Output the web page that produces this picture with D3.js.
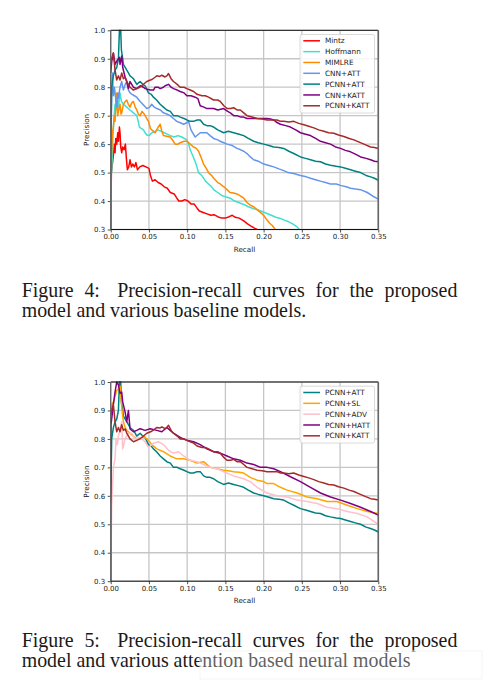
<!DOCTYPE html>
<html><head><meta charset="utf-8">
<script src="https://cdn.jsdelivr.net/npm/d3@7"></script>
<style>body{margin:0;background:#fff}svg{display:block}</style>
</head><body><svg id="c" width="489" height="696"></svg>
<script>
// ---------- data ----------
const xTicks = [0, 0.05, 0.10, 0.15, 0.20, 0.25, 0.30, 0.35];
const yTicks = [0.3, 0.4, 0.5, 0.6, 0.7, 0.8, 0.9, 1.0];

const mintz = [[0,0.30],[0.0009,0.50],[0.0022,0.53],[0.0035,0.56],[0.0048,0.60],[0.0057,0.57],[0.0066,0.62],[0.0079,0.60],[0.0092,0.64],[0.0101,0.61],[0.0114,0.66],[0.0122,0.64],[0.0131,0.59],[0.0144,0.57],[0.0157,0.59],[0.0175,0.58],[0.0192,0.60],[0.0205,0.55],[0.0218,0.51],[0.0236,0.52],[0.0253,0.545],[0.0271,0.52],[0.0289,0.53],[0.0310,0.52],[0.0330,0.535],[0.0350,0.51],[0.0380,0.52],[0.0420,0.525],[0.0460,0.52],[0.0500,0.515],[0.0520,0.49],[0.0545,0.47],[0.0580,0.475],[0.0620,0.465],[0.0660,0.46],[0.0700,0.45],[0.0740,0.445],[0.0780,0.43],[0.0830,0.425],[0.0865,0.41],[0.0890,0.40],[0.0930,0.40],[0.0970,0.405],[0.1010,0.40],[0.1050,0.39],[0.1090,0.39],[0.1130,0.375],[0.1160,0.365],[0.1210,0.36],[0.1260,0.355],[0.1310,0.35],[0.1350,0.352],[0.1400,0.345],[0.1450,0.34],[0.1500,0.34],[0.1550,0.345],[0.1590,0.35],[0.1630,0.343],[0.1680,0.34],[0.1740,0.33],[0.1790,0.32],[0.1830,0.313],[0.1880,0.305],[0.1914,0.30]];

const hoffmann = [[0,0.30],[0.0004,0.50],[0.0013,0.50],[0.0026,0.60],[0.0040,0.68],[0.0057,0.74],[0.0070,0.72],[0.0079,0.77],[0.0092,0.75],[0.0101,0.73],[0.0114,0.76],[0.0122,0.78],[0.0140,0.75],[0.0166,0.74],[0.0190,0.735],[0.0210,0.73],[0.0230,0.725],[0.0253,0.72],[0.0275,0.715],[0.0297,0.71],[0.0320,0.705],[0.0341,0.70],[0.0360,0.68],[0.0376,0.66],[0.0400,0.655],[0.0428,0.65],[0.0450,0.64],[0.0472,0.632],[0.0500,0.63],[0.0540,0.64],[0.0580,0.645],[0.0620,0.65],[0.0660,0.645],[0.0700,0.64],[0.0740,0.635],[0.0780,0.63],[0.0830,0.625],[0.0880,0.63],[0.0930,0.625],[0.0996,0.615],[0.1020,0.60],[0.1040,0.58],[0.1080,0.555],[0.1110,0.535],[0.1127,0.52],[0.1149,0.50],[0.1190,0.49],[0.1240,0.47],[0.1280,0.46],[0.1320,0.45],[0.1346,0.44],[0.1400,0.43],[0.1450,0.42],[0.1500,0.415],[0.1564,0.41],[0.1620,0.40],[0.1690,0.393],[0.1750,0.387],[0.1800,0.38],[0.1870,0.373],[0.1914,0.37],[0.1980,0.363],[0.2045,0.356],[0.2100,0.35],[0.2160,0.343],[0.2220,0.339],[0.2280,0.332],[0.2329,0.327],[0.2380,0.32],[0.2438,0.309],[0.2469,0.30]];

const mimlre = [[0,0.30],[0.0009,0.55],[0.0022,0.64],[0.0035,0.66],[0.0048,0.70],[0.0057,0.68],[0.0070,0.75],[0.0079,0.78],[0.0088,0.72],[0.0092,0.70],[0.0105,0.72],[0.0122,0.74],[0.0135,0.705],[0.0144,0.71],[0.0166,0.74],[0.0190,0.75],[0.0210,0.755],[0.0230,0.74],[0.0253,0.73],[0.0275,0.745],[0.0297,0.75],[0.0320,0.73],[0.0341,0.72],[0.0363,0.705],[0.0385,0.70],[0.0410,0.715],[0.0440,0.705],[0.0472,0.69],[0.0494,0.68],[0.0520,0.655],[0.0537,0.65],[0.0560,0.645],[0.0581,0.64],[0.0610,0.655],[0.0647,0.67],[0.0669,0.645],[0.0690,0.63],[0.0730,0.628],[0.0778,0.625],[0.0821,0.61],[0.0843,0.60],[0.0880,0.60],[0.0909,0.605],[0.0960,0.61],[0.0996,0.61],[0.1040,0.60],[0.1084,0.59],[0.1120,0.585],[0.1149,0.575],[0.1180,0.555],[0.1215,0.53],[0.1250,0.515],[0.1280,0.50],[0.1320,0.49],[0.1346,0.48],[0.1400,0.465],[0.1433,0.46],[0.1480,0.45],[0.1521,0.44],[0.1560,0.43],[0.1608,0.428],[0.1650,0.425],[0.1695,0.418],[0.1740,0.41],[0.1783,0.395],[0.1830,0.385],[0.1870,0.38],[0.1914,0.37],[0.1958,0.36],[0.2000,0.35],[0.2045,0.333],[0.2080,0.322],[0.2110,0.315],[0.2154,0.30]];

const cnnAtt = [[0,0.30],[0.0004,0.60],[0.0013,0.80],[0.0022,0.85],[0.0035,0.77],[0.0048,0.80],[0.0066,0.76],[0.0079,0.73],[0.0092,0.78],[0.0101,0.76],[0.0122,0.80],[0.0144,0.82],[0.0166,0.79],[0.0190,0.81],[0.0210,0.82],[0.0232,0.79],[0.0253,0.78],[0.0280,0.775],[0.0310,0.77],[0.0341,0.765],[0.0385,0.75],[0.0420,0.74],[0.0472,0.725],[0.0510,0.73],[0.0537,0.74],[0.0570,0.73],[0.0603,0.725],[0.0650,0.72],[0.0690,0.71],[0.0740,0.705],[0.0778,0.70],[0.0820,0.69],[0.0865,0.68],[0.0910,0.675],[0.0953,0.67],[0.0996,0.675],[0.1018,0.68],[0.1050,0.65],[0.1105,0.625],[0.1171,0.64],[0.1220,0.64],[0.1258,0.64],[0.1300,0.63],[0.1346,0.62],[0.1400,0.615],[0.1433,0.61],[0.1480,0.605],[0.1521,0.60],[0.1590,0.595],[0.1652,0.585],[0.1700,0.58],[0.1740,0.575],[0.1783,0.567],[0.1826,0.555],[0.1870,0.545],[0.1930,0.54],[0.2001,0.53],[0.2070,0.525],[0.2132,0.52],[0.2200,0.513],[0.2263,0.507],[0.2320,0.50],[0.2394,0.497],[0.2482,0.49],[0.2560,0.485],[0.2613,0.48],[0.2690,0.474],[0.2744,0.47],[0.2810,0.465],[0.2875,0.46],[0.2950,0.46],[0.3006,0.455],[0.3080,0.45],[0.3137,0.445],[0.3200,0.442],[0.3268,0.44],[0.3356,0.43],[0.3443,0.415],[0.35,0.407]];

const pcnnAtt = [[0,0.30],[0.0004,0.65],[0.0013,0.80],[0.0035,0.84],[0.0057,0.86],[0.0079,0.87],[0.0101,0.90],[0.0114,1.0],[0.0131,1.0],[0.0140,0.93],[0.0157,0.90],[0.0166,0.88],[0.0190,0.87],[0.0210,0.86],[0.0232,0.85],[0.0253,0.84],[0.0275,0.835],[0.0297,0.83],[0.0320,0.82],[0.0341,0.81],[0.0363,0.815],[0.0385,0.82],[0.0420,0.81],[0.0450,0.805],[0.0494,0.78],[0.0530,0.775],[0.0559,0.765],[0.0600,0.755],[0.0647,0.74],[0.0690,0.73],[0.0734,0.72],[0.0780,0.715],[0.0821,0.70],[0.0870,0.70],[0.0909,0.695],[0.0960,0.69],[0.0996,0.685],[0.1040,0.68],[0.1084,0.68],[0.1130,0.685],[0.1171,0.685],[0.1215,0.67],[0.1258,0.665],[0.1300,0.665],[0.1346,0.66],[0.1400,0.65],[0.1477,0.64],[0.1540,0.645],[0.1608,0.64],[0.1680,0.635],[0.1739,0.63],[0.1800,0.62],[0.1870,0.61],[0.1930,0.605],[0.2001,0.60],[0.2070,0.595],[0.2132,0.59],[0.2200,0.588],[0.2263,0.585],[0.2330,0.575],[0.2394,0.567],[0.2482,0.555],[0.2550,0.55],[0.2613,0.545],[0.2680,0.54],[0.2744,0.538],[0.2810,0.53],[0.2875,0.526],[0.2950,0.522],[0.3006,0.52],[0.3070,0.515],[0.3137,0.51],[0.3200,0.505],[0.3268,0.50],[0.3340,0.49],[0.3399,0.485],[0.3450,0.48],[0.35,0.473]];

const cnnKatt = [[0,0.85],[0.0013,0.89],[0.0035,0.92],[0.0057,0.88],[0.0087,0.895],[0.0114,0.905],[0.0122,0.88],[0.0144,0.91],[0.0157,0.87],[0.0188,0.835],[0.0210,0.82],[0.0232,0.795],[0.0253,0.82],[0.0275,0.81],[0.0297,0.80],[0.0341,0.795],[0.0385,0.805],[0.0428,0.80],[0.0450,0.795],[0.0516,0.79],[0.0560,0.79],[0.0581,0.80],[0.0620,0.80],[0.0647,0.795],[0.0690,0.80],[0.0712,0.805],[0.0756,0.81],[0.0790,0.80],[0.0821,0.795],[0.0870,0.79],[0.0909,0.785],[0.0960,0.78],[0.0996,0.77],[0.1050,0.77],[0.1105,0.765],[0.1140,0.76],[0.1171,0.735],[0.1220,0.73],[0.1258,0.725],[0.1300,0.725],[0.1346,0.725],[0.1400,0.72],[0.1477,0.725],[0.1530,0.715],[0.1564,0.71],[0.1610,0.70],[0.1652,0.70],[0.1700,0.695],[0.1739,0.695],[0.1783,0.69],[0.1830,0.69],[0.1914,0.69],[0.1960,0.69],[0.2045,0.69],[0.2090,0.688],[0.2132,0.685],[0.2180,0.675],[0.2220,0.67],[0.2290,0.665],[0.2351,0.66],[0.2420,0.65],[0.2482,0.64],[0.2550,0.635],[0.2613,0.63],[0.2680,0.62],[0.2744,0.61],[0.2810,0.605],[0.2875,0.60],[0.2940,0.59],[0.3006,0.585],[0.3070,0.578],[0.3137,0.573],[0.3200,0.565],[0.3268,0.555],[0.3340,0.55],[0.3399,0.545],[0.3450,0.54],[0.35,0.538]];

const pcnnKatt = [[0,0.88],[0.0017,0.905],[0.0035,0.92],[0.0057,0.86],[0.0079,0.825],[0.0101,0.84],[0.0122,0.825],[0.0144,0.85],[0.0166,0.83],[0.0190,0.835],[0.0210,0.82],[0.0253,0.80],[0.0297,0.79],[0.0341,0.795],[0.0380,0.80],[0.0406,0.805],[0.0472,0.82],[0.0537,0.827],[0.0580,0.835],[0.0603,0.84],[0.0640,0.838],[0.0669,0.842],[0.0710,0.836],[0.0734,0.84],[0.0756,0.848],[0.0790,0.83],[0.0821,0.82],[0.0870,0.81],[0.0909,0.80],[0.0960,0.80],[0.0996,0.795],[0.1040,0.79],[0.1084,0.785],[0.1130,0.775],[0.1193,0.77],[0.1237,0.77],[0.1280,0.765],[0.1346,0.755],[0.1400,0.755],[0.1433,0.75],[0.1480,0.735],[0.1521,0.725],[0.1570,0.725],[0.1608,0.728],[0.1652,0.72],[0.1695,0.72],[0.1740,0.71],[0.1783,0.70],[0.1850,0.695],[0.1914,0.69],[0.1980,0.688],[0.2045,0.685],[0.2110,0.685],[0.2176,0.685],[0.2220,0.68],[0.2263,0.68],[0.2330,0.678],[0.2394,0.68],[0.2460,0.673],[0.2526,0.668],[0.2590,0.663],[0.2657,0.657],[0.2720,0.65],[0.2788,0.645],[0.2850,0.64],[0.2919,0.638],[0.2980,0.632],[0.3050,0.627],[0.3120,0.62],[0.3181,0.615],[0.3250,0.607],[0.3312,0.60],[0.3399,0.59],[0.3450,0.588],[0.35,0.585]];

const pcnnSl = [[0,0.89],[0.0013,0.92],[0.0035,0.93],[0.0057,0.95],[0.0079,0.97],[0.0101,0.975],[0.0114,0.98],[0.0122,0.985],[0.0131,0.96],[0.0144,0.91],[0.0157,0.88],[0.0166,0.86],[0.0190,0.84],[0.0210,0.83],[0.0253,0.82],[0.0297,0.81],[0.0341,0.80],[0.0385,0.80],[0.0428,0.81],[0.0472,0.80],[0.0494,0.795],[0.0537,0.78],[0.0603,0.765],[0.0690,0.755],[0.0778,0.74],[0.0865,0.73],[0.0953,0.73],[0.1040,0.725],[0.1127,0.715],[0.1215,0.72],[0.1302,0.70],[0.1390,0.695],[0.1477,0.69],[0.1540,0.688],[0.1608,0.685],[0.1680,0.683],[0.1739,0.68],[0.1826,0.665],[0.1914,0.655],[0.2001,0.65],[0.2045,0.643],[0.2132,0.643],[0.2220,0.63],[0.2307,0.62],[0.2438,0.61],[0.2570,0.596],[0.2700,0.59],[0.2830,0.58],[0.2960,0.58],[0.3094,0.567],[0.3225,0.555],[0.3356,0.545],[0.35,0.538]];

const pcnnAdv = [[0,0.30],[0.0013,0.57],[0.0035,0.70],[0.0057,0.73],[0.0070,0.80],[0.0087,0.78],[0.0101,0.81],[0.0122,0.83],[0.0144,0.86],[0.0157,0.765],[0.0188,0.80],[0.0232,0.82],[0.0275,0.82],[0.0319,0.80],[0.0385,0.805],[0.0450,0.79],[0.0494,0.77],[0.0559,0.785],[0.0625,0.79],[0.0690,0.78],[0.0756,0.76],[0.0821,0.75],[0.0887,0.755],[0.0953,0.74],[0.1040,0.725],[0.1127,0.72],[0.1215,0.71],[0.1302,0.70],[0.1390,0.695],[0.1477,0.685],[0.1608,0.67],[0.1739,0.66],[0.1826,0.65],[0.1914,0.63],[0.2045,0.61],[0.2176,0.60],[0.2307,0.596],[0.2438,0.585],[0.2570,0.58],[0.2700,0.573],[0.2830,0.56],[0.2960,0.555],[0.3094,0.545],[0.3225,0.538],[0.3356,0.526],[0.35,0.50]];

const pcnnHatt = [[0,0.30],[0.0004,0.85],[0.0035,0.92],[0.0057,0.965],[0.0079,1.0],[0.0101,0.99],[0.0122,0.96],[0.0144,0.965],[0.0157,0.93],[0.0188,0.895],[0.0210,0.86],[0.0232,0.90],[0.0253,0.835],[0.0297,0.825],[0.0341,0.83],[0.0385,0.836],[0.0450,0.83],[0.0516,0.836],[0.0603,0.83],[0.0669,0.825],[0.0734,0.84],[0.0778,0.83],[0.0821,0.82],[0.0909,0.805],[0.0996,0.795],[0.1084,0.79],[0.1171,0.78],[0.1258,0.765],[0.1346,0.755],[0.1433,0.75],[0.1521,0.74],[0.1608,0.73],[0.1695,0.725],[0.1783,0.715],[0.1870,0.71],[0.1958,0.70],[0.2045,0.70],[0.2132,0.695],[0.2220,0.685],[0.2351,0.667],[0.2482,0.65],[0.2613,0.63],[0.2744,0.61],[0.2875,0.596],[0.3006,0.585],[0.3137,0.573],[0.3268,0.56],[0.3399,0.545],[0.35,0.532]];

const topNames = ["Mintz","Hoffmann","MIMLRE","CNN+ATT","PCNN+ATT","CNN+KATT","PCNN+KATT"];
const topColors = ["#ff0000","#40e0d0","#ff8c00","#6495ed","#008080","#800080","#a52a2a"];
const topValues = [mintz, hoffmann, mimlre, cnnAtt, pcnnAtt, cnnKatt, pcnnKatt];

const botNames = ["PCNN+ATT","PCNN+SL","PCNN+ADV","PCNN+HATT","PCNN+KATT"];
const botColors = ["#008080","#ffa500","#ffc0cb","#800080","#a52a2a"];
const botValues = [pcnnAtt, pcnnSl, pcnnAdv, pcnnHatt, pcnnKatt];

const caption4 = ["Figure 4: Precision-recall curves for the proposed", "model and various baseline models."];
const caption5 = ["Figure 5: Precision-recall curves for the proposed", "model and various attention based neural models"];

// ---------- drawing ----------
const svg = d3.select('#c');
const sans = "DejaVu Sans, sans-serif";

function drawChart(top, names, colors, values, id) {
  const L = 110.7, R = 378.3, T = top, B = top + 199.2;
  const x = d3.scaleLinear().domain([0, 0.35]).range([L, R]);
  const y = d3.scaleLinear().domain([0.3, 1.0]).range([B, T]);
  const g = svg.append('g');

  g.append('defs').append('clipPath').attr('id', id)
    .append('rect').attr('x', L).attr('y', T - 1).attr('width', R - L).attr('height', B - T + 1);

  // grid
  g.append('g').selectAll('line').data(xTicks).join('line')
    .attr('x1', d => x(d)).attr('x2', d => x(d)).attr('y1', T).attr('y2', B)
    .attr('stroke', '#c6c6c6').attr('stroke-width', 1.3);
  g.append('g').selectAll('line').data(yTicks).join('line')
    .attr('y1', d => y(d)).attr('y2', d => y(d)).attr('x1', L).attr('x2', R)
    .attr('stroke', '#c6c6c6').attr('stroke-width', 1.3);

  // curves
  const line = d3.line().x(d => x(d[0])).y(d => y(d[1]));
  g.append('g').attr('clip-path', `url(#${id})`).selectAll('path').data(values).join('path')
    .attr('d', line).attr('fill', 'none')
    .attr('stroke', (d, i) => colors[i]).attr('stroke-width', 1.5)
    .attr('stroke-linejoin', 'round');

  // axes
  const xa = g.append('g').attr('transform', `translate(0,${B})`)
    .call(d3.axisBottom(x).tickValues(xTicks).tickFormat(d3.format('.2f')).tickSize(3).tickPadding(2));
  const ya = g.append('g').attr('transform', `translate(${L},0)`)
    .call(d3.axisLeft(y).tickValues(yTicks).tickFormat(d3.format('.1f')).tickSize(3).tickPadding(2.5));
  [xa, ya].forEach(a => {
    a.select('.domain').remove();
    a.selectAll('text').attr('font-family', sans).attr('font-size', 7).attr('fill', '#222');
    a.selectAll('line').attr('stroke', '#222').attr('stroke-width', 0.8);
  });

  // spines
  g.append('line').attr('x1', L).attr('x2', R).attr('y1', T).attr('y2', T).attr('stroke', '#111').attr('stroke-width', 1);
  g.append('line').attr('x1', L).attr('x2', R).attr('y1', B).attr('y2', B).attr('stroke', '#111').attr('stroke-width', 1);
  g.append('line').attr('x1', L).attr('x2', L).attr('y1', T).attr('y2', B).attr('stroke', '#666').attr('stroke-width', 1.3);
  g.append('line').attr('x1', R).attr('x2', R).attr('y1', T).attr('y2', B).attr('stroke', '#666').attr('stroke-width', 1.6);

  // axis labels
  g.append('text').attr('x', (L + R) / 2).attr('y', B + 22).attr('text-anchor', 'middle')
    .attr('font-family', sans).attr('font-size', 7.2).attr('fill', '#222').text('Recall');
  g.append('text').attr('transform', `translate(89.3,${(T + B) / 2}) rotate(-90)`).attr('text-anchor', 'middle')
    .attr('font-family', sans).attr('font-size', 7.2).attr('fill', '#222').text('Precision');

  // legend
  const lx = 300, ly = T + 4.2, step = 10.83;
  const lg = g.append('g');
  lg.append('rect').attr('x', lx).attr('y', ly).attr('width', 74.5).attr('height', names.length * step + 2.7)
    .attr('rx', 2).attr('fill', '#fff').attr('fill-opacity', 0.85).attr('stroke', '#d0d0d0').attr('stroke-width', 0.8);
  const items = lg.selectAll('g.item').data(names).join('g').attr('class', 'item')
    .attr('transform', (d, i) => `translate(0,${ly + 6.3 + i * step})`);
  items.append('line').attr('x1', lx + 3.3).attr('x2', lx + 20).attr('y1', 0).attr('y2', 0)
    .attr('stroke', (d, i) => colors[i]).attr('stroke-width', 1.5);
  items.append('text').attr('x', lx + 25).attr('y', 0).attr('dy', '0.36em')
    .attr('font-family', sans).attr('font-size', 7.3).attr('fill', '#222').text(d => d);
}

function caption(lines, y1) {
  const serif = "'Liberation Serif', 'Times New Roman', serif";
  const left = 21.7, right = 457.4, fs = 19.9;
  const g = svg.append('g').attr('font-family', serif).attr('font-size', fs).attr('fill', '#1a1a1a');
  // first line: justified word by word (wider space after the figure number)
  const words = lines[0].split(/\s+/);
  const weights = words.slice(0, -1).map((w, i) => (i === 1 ? 1.6 : 1));
  const ts = words.map(w => g.append('text').attr('y', y1).text(w));
  const widths = ts.map(t => t.node().getComputedTextLength());
  const unit = (right - left - d3.sum(widths)) / d3.sum(weights);
  let cx = left;
  ts.forEach((t, i) => { t.attr('x', cx); cx += widths[i] + (i < weights.length ? weights[i] * unit : 0); });
  g.append('text').attr('x', left).attr('y', y1 + 20.8).text(lines[1]);
}

drawChart(30.3, topNames, topColors, topValues, 'clipTop');
drawChart(382.0, botNames, botColors, botValues, 'clipBot');
caption(caption4, 296.6);
caption(caption5, 646.6);
// faint overlay band at the bottom of the page (as in the scan)
svg.append('rect').attr('x', 200).attr('y', 651).attr('width', 282).attr('height', 28)
  .attr('fill', '#fff').attr('fill-opacity', 0.3).attr('stroke', '#f2f2f2').attr('stroke-width', 0.8);
</script>
</body></html>
